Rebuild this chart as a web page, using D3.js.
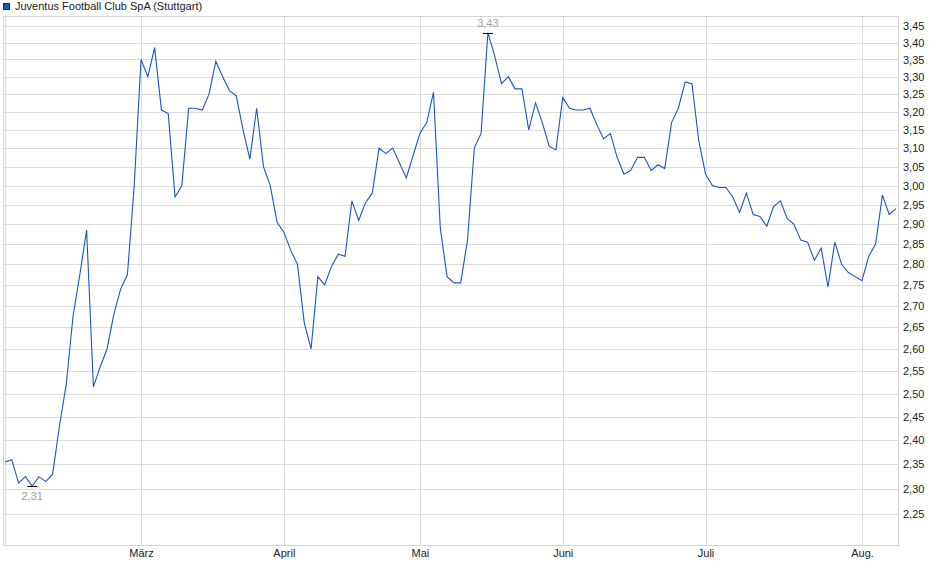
<!DOCTYPE html>
<html>
<head>
<meta charset="utf-8">
<script src="https://cdn.jsdelivr.net/npm/d3@7"></script>
<style>
  body { margin: 0; background: #fff; }
  text { font-family: "Liberation Sans", Arial, sans-serif; font-size: 11px; }
</style>
</head>
<body>
<script>
// Juventus Football Club SpA (Stuttgart) - Schlusskurse, ein Wert je Handelstag
var seriesName = "Juventus Football Club SpA (Stuttgart)";

var prices = [
    2.355, 2.36, 2.312, 2.325, 2.306, 2.325, 2.315, 2.33, 2.43, 2.52,
    2.675, 2.775, 2.885, 2.515, 2.56, 2.60, 2.68, 2.74, 2.775, 3.00,
    3.35, 3.30, 3.385, 3.205, 3.195, 2.97, 3.00, 3.21, 3.21, 3.205,
    3.25, 3.345, 3.30, 3.26, 3.245, 3.15, 3.07, 3.21, 3.05, 3.00,
    2.905, 2.88, 2.835, 2.80, 2.66, 2.60, 2.77, 2.75, 2.795, 2.825,
    2.82, 2.96, 2.91, 2.955, 2.98, 3.10, 3.085, 3.10, 3.06, 3.02,
    3.08, 3.14, 3.17, 3.255, 2.89, 2.77, 2.755, 2.755, 2.86, 3.10,
    3.14, 3.43, 3.36, 3.28, 3.30, 3.265, 3.265, 3.15, 3.225, 3.17,
    3.105, 3.095, 3.24, 3.21, 3.205, 3.205, 3.21, 3.165, 3.125, 3.14,
    3.075, 3.03, 3.04, 3.075, 3.075, 3.04, 3.055, 3.045, 3.17, 3.21,
    3.285, 3.28, 3.12, 3.03, 3.00, 2.995, 2.995, 2.97, 2.93, 2.98,
    2.925, 2.92, 2.895, 2.945, 2.96, 2.915, 2.90, 2.86, 2.855, 2.81,
    2.84, 2.745, 2.855, 2.80, 2.78, 2.77, 2.76, 2.82, 2.85, 2.975,
    2.925, 2.94
];

// erster Handelstag je Monat (Index in prices)
var monthStart = [0, 20, 41, 61, 82, 103, 126];
var monthLabels = ["", "März", "April", "Mai", "Juni", "Juli", "Aug."];

var yTicks = [2.25, 2.30, 2.35, 2.40, 2.45, 2.50, 2.55, 2.60, 2.65, 2.70, 2.75, 2.80,
    2.85, 2.90, 2.95, 3.00, 3.05, 3.10, 3.15, 3.20, 3.25, 3.30, 3.35, 3.40, 3.45];

var width = 940, height = 579;
var plot = { left: 3, right: 898, top: 16, bottom: 545 };

var de = d3.formatLocale({ decimal: ",", thousands: ".", grouping: [3], currency: ["", " €"] });
var fmt = de.format(".2f");

var svg = d3.select("body").append("svg")
    .attr("width", width)
    .attr("height", height);

var x = d3.scaleLinear()
    .domain([0, prices.length - 1])
    .range([plot.left + 2, plot.right - 2]);

var y = d3.scaleLog()
    .domain([2.19, 3.48])
    .range([plot.bottom, plot.top]);

// horizontal grid
svg.append("g")
    .selectAll("line")
    .data(yTicks)
    .enter()
    .append("line")
    .attr("x1", plot.left)
    .attr("x2", plot.right)
    .attr("y1", function (d) { return Math.round(y(d)) + 0.5; })
    .attr("y2", function (d) { return Math.round(y(d)) + 0.5; })
    .style("stroke", "#dcdcdc")
    .style("stroke-width", 1);

// vertical grid (month starts)
svg.append("g")
    .selectAll("line")
    .data(monthStart)
    .enter()
    .append("line")
    .attr("x1", function (d) { return Math.round(x(d)) + 0.5; })
    .attr("x2", function (d) { return Math.round(x(d)) + 0.5; })
    .attr("y1", plot.top)
    .attr("y2", plot.bottom)
    .style("stroke", "#dcdcdc")
    .style("stroke-width", 1);

// plot frame
svg.append("rect")
    .attr("x", plot.left + 0.5)
    .attr("y", plot.top + 0.5)
    .attr("width", plot.right - plot.left)
    .attr("height", plot.bottom - plot.top)
    .style("fill", "none")
    .style("stroke", "#d4d4d4");

// Y axis on the right
var yAxis = d3.axisRight(y)
    .tickValues(yTicks)
    .tickFormat(fmt)
    .tickSize(0)
    .tickPadding(5);

svg.append("g")
    .attr("transform", "translate(" + plot.right + ",0)")
    .call(yAxis)
    .call(function (g) { g.select(".domain").remove(); })
    .selectAll("text")
    .style("font-family", "'Liberation Sans', Arial, sans-serif")
    .style("font-size", "11px")
    .style("fill", "#222");

// X axis month labels
var xAxis = d3.axisBottom(x)
    .tickValues(monthStart)
    .tickFormat(function (d, i) { return monthLabels[i]; })
    .tickSize(0)
    .tickPadding(4);

svg.append("g")
    .attr("transform", "translate(0," + plot.bottom + ")")
    .call(xAxis)
    .call(function (g) { g.select(".domain").remove(); })
    .selectAll("text")
    .style("font-family", "'Liberation Sans', Arial, sans-serif")
    .style("font-size", "11px")
    .style("fill", "#222");

// price line
var line = d3.line()
    .x(function (d, i) { return x(i); })
    .y(function (d) { return y(d); });

svg.append("path")
    .datum(prices)
    .attr("d", line)
    .style("fill", "none")
    .style("stroke", "#1a56c6")
    .style("stroke-width", 1.1);

// high / low markers
var iMax = d3.maxIndex(prices), iMin = d3.minIndex(prices);
var marks = [
    { i: iMax, v: prices[iMax], dy: -6 },
    { i: iMin, v: prices[iMin], dy: 14 }
];

svg.append("g")
    .selectAll("line")
    .data(marks)
    .enter()
    .append("line")
    .attr("x1", function (d) { return x(d.i) - 5; })
    .attr("x2", function (d) { return x(d.i) + 5; })
    .attr("y1", function (d) { return Math.round(y(d.v)) + 0.5; })
    .attr("y2", function (d) { return Math.round(y(d.v)) + 0.5; })
    .style("stroke", "#000")
    .style("stroke-width", 1);

svg.append("g")
    .selectAll("text")
    .data(marks)
    .enter()
    .append("text")
    .attr("x", function (d) { return x(d.i); })
    .attr("y", function (d) { return y(d.v) + d.dy; })
    .attr("text-anchor", "middle")
    .style("fill", "#a0a0a0")
    .text(function (d) { return fmt(d.v); });

// legend
svg.append("rect")
    .attr("x", 3.5)
    .attr("y", 3.5)
    .attr("width", 6)
    .attr("height", 6)
    .style("fill", "#1a56c6")
    .style("stroke", "#0a2a66");

svg.append("text")
    .attr("x", 15)
    .attr("y", 10)
    .style("fill", "#222")
    .text(seriesName);
</script>
</body>
</html>
